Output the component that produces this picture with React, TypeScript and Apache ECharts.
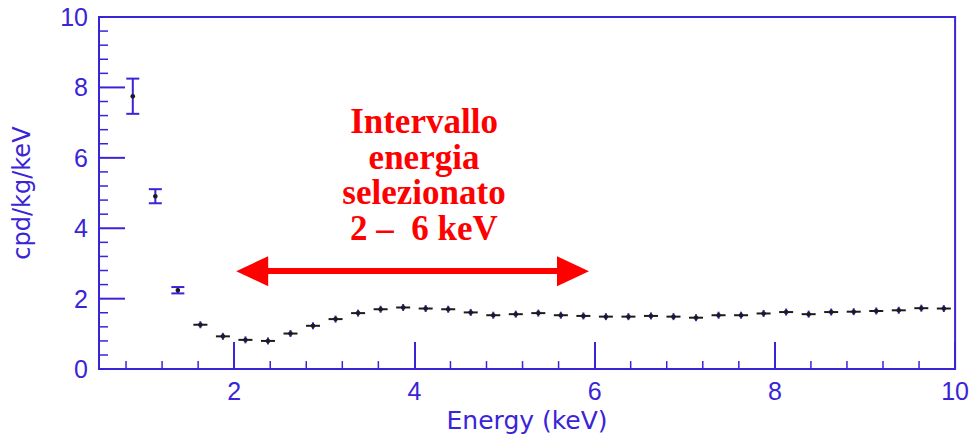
import React, { useEffect, useRef } from "react";
import * as echarts from "echarts";

const energy = [0.875, 1.125, 1.375, 1.625, 1.875, 2.125, 2.375, 2.625, 2.875, 3.125, 3.375, 3.625, 3.875, 4.125, 4.375, 4.625, 4.875, 5.125, 5.375, 5.625, 5.875, 6.125, 6.375, 6.625, 6.875, 7.125, 7.375, 7.625, 7.875, 8.125, 8.375, 8.625, 8.875, 9.125, 9.375, 9.625, 9.875];
const rate = [7.75, 4.91, 2.24, 1.26, 0.93, 0.83, 0.8, 1.01, 1.23, 1.42, 1.59, 1.7, 1.75, 1.72, 1.7, 1.61, 1.53, 1.56, 1.59, 1.53, 1.51, 1.49, 1.49, 1.51, 1.49, 1.46, 1.53, 1.53, 1.58, 1.62, 1.56, 1.62, 1.63, 1.65, 1.67, 1.73, 1.72];
const rateErr = [0.5, 0.2, 0.09, 0.07, 0.07, 0.07, 0.07, 0.07, 0.07, 0.07, 0.07, 0.07, 0.07, 0.07, 0.07, 0.07, 0.07, 0.07, 0.07, 0.07, 0.07, 0.07, 0.07, 0.07, 0.07, 0.07, 0.07, 0.07, 0.07, 0.07, 0.07, 0.07, 0.07, 0.07, 0.07, 0.07, 0.07];
const xMajorTicks = [2, 4, 6, 8, 10];
const xMinorTicks = [0.8, 1.2, 1.6, 2.4, 2.8, 3.2, 3.6, 4.4, 4.8, 5.2, 5.6, 6.4, 6.8, 7.2, 7.6, 8.4, 8.8, 9.2, 9.6];
const yMajorTicks = [0, 2, 4, 6, 8, 10];
const yMinorTicks = [0.4, 0.8, 1.2, 1.6, 2.4, 2.8, 3.2, 3.6, 4.4, 4.8, 5.2, 5.6, 6.4, 6.8, 7.2, 7.6, 8.4, 8.8, 9.2, 9.6];
const xMin = 0.5;
const xMax = 10;
const yMin = 0;
const yMax = 10;
const arrowFrom = 2.2;
const arrowTo = 5.76;
const arrowLevel = 2.78;
const annotationLines = ["Intervallo", "energia", "selezionato", "2 –  6 keV"];
const xTitle = "Energy (keV)";
const yTitle = "cpd/kg/keV";

const BLUE = "#3a24d8";
const DARK = "#1c1c1c";
const RED = "#ff0000";

export default function App() {
  const ref = useRef<HTMLDivElement>(null);
  useEffect(() => {
    document.body.style.margin = "0";
    if (!ref.current) return;
    const chart = echarts.init(ref.current, null, { renderer: "svg" });
    const data = energy.map((e, i) => [e, rate[i], rateErr[i]]);
    chart.setOption({
      animation: false,
      backgroundColor: "#ffffff",
      grid: {
        left: 99,
        right: 15,
        top: 17,
        bottom: 68,
        show: true,
        borderColor: BLUE,
        borderWidth: 2,
        backgroundColor: "transparent",
      },
      xAxis: {
        type: "value",
        min: xMin,
        max: xMax,
        position: "bottom",
        name: xTitle,
        nameLocation: "middle",
        nameGap: 38,
        nameTextStyle: { color: BLUE, fontSize: 25, fontFamily: "DejaVu Sans" },
        axisLine: { show: true, onZero: false, lineStyle: { color: BLUE, width: 2 } },
        axisTick: { show: true, inside: true, length: 27, customValues: xMajorTicks, lineStyle: { color: BLUE, width: 2 } },
        axisLabel: {
          color: BLUE,
          fontSize: 25,
          fontFamily: "Liberation Sans",
          margin: 9,
          customValues: xMajorTicks,
        },
        splitLine: { show: false },
      },
      yAxis: {
        type: "value",
        min: yMin,
        max: yMax,
        position: "left",
        name: yTitle,
        nameLocation: "middle",
        nameGap: 65,
        nameTextStyle: { color: BLUE, fontSize: 24, fontFamily: "DejaVu Sans" },
        axisLine: { show: true, onZero: false, lineStyle: { color: BLUE, width: 2 } },
        axisTick: { show: false },
        axisLabel: { color: BLUE, fontSize: 25, fontFamily: "Liberation Sans", margin: 11, customValues: yMajorTicks },
        splitLine: { show: false },
      },
      series: [
        {
          type: "custom",
          name: "data",
          encode: { x: 0, y: 1 },
          data,
          renderItem: (params: any, api: any) => {
            const x = api.value(0);
            const y = api.value(1);
            const e = api.value(2);
            const c = api.coord([x, y]);
            const top = api.coord([x, y + e]);
            const bot = api.coord([x, y - e]);
            const errPx = (bot[1] - top[1]) / 2;
            const children: any[] = [];
            if (errPx > 3) {
              children.push({
                type: "line",
                shape: { x1: c[0], y1: top[1], x2: c[0], y2: bot[1] },
                style: { stroke: BLUE, lineWidth: 2 },
              });
              children.push({
                type: "line",
                shape: { x1: c[0] - 6.5, y1: top[1], x2: c[0] + 6.5, y2: top[1] },
                style: { stroke: BLUE, lineWidth: 2 },
              });
              children.push({
                type: "line",
                shape: { x1: c[0] - 6.5, y1: bot[1], x2: c[0] + 6.5, y2: bot[1] },
                style: { stroke: BLUE, lineWidth: 2 },
              });
            } else {
              children.push({
                type: "line",
                shape: { x1: c[0] - 7, y1: c[1], x2: c[0] + 7, y2: c[1] },
                style: { stroke: DARK, lineWidth: 2 },
              });
              children.push({
                type: "line",
                shape: { x1: c[0], y1: c[1] - 3.5, x2: c[0], y2: c[1] + 3.5 },
                style: { stroke: BLUE, lineWidth: 2 },
              });
            }
            children.push({
              type: "circle",
              shape: { cx: c[0], cy: c[1], r: 2.3 },
              style: { fill: DARK },
            });
            return { type: "group", children };
          },
          z: 5,
        },
        {
          type: "line",
          name: "range",
          data: [],
          silent: true,
          markLine: {
            silent: true,
            symbol: ["triangle", "triangle"],
            symbolSize: [30, 32],
            label: { show: false },
            lineStyle: { color: RED, width: 6, type: "solid" },
            data: [
              [
                { coord: [arrowFrom, arrowLevel] },
                { coord: [arrowTo, arrowLevel] },
              ],
            ],
          },
        },
      ],
    });

    // Tick marks placed through the chart's own axis scales
    const toPx = (x: number, y: number) =>
      chart.convertToPixel({ xAxisIndex: 0, yAxisIndex: 0 }, [x, y]) as number[];
    const tickLine = (x1: number, y1: number, x2: number, y2: number, w: number) => ({
      type: "line",
      silent: true,
      z: 20,
      shape: { x1, y1, x2, y2 },
      style: { stroke: BLUE, lineWidth: w },
    });
    const tickGraphics: any[] = [];
    xMinorTicks.forEach((v) => {
      const p = toPx(v, yMin);
      tickGraphics.push(tickLine(p[0], p[1], p[0], p[1] - 8, 1.5));
    });
    yMinorTicks.forEach((v) => {
      const p = toPx(xMin, v);
      tickGraphics.push(tickLine(p[0], p[1], p[0] + 9, p[1], 1.5));
    });
    yMajorTicks
      .filter((v) => v > yMin && v < yMax)
      .forEach((v) => {
        const p = toPx(xMin, v);
        tickGraphics.push(tickLine(p[0], p[1], p[0] + 26, p[1], 2));
      });

    chart.setOption({
      graphic: [
        {
          type: "text",
          x: 424,
          y: 104,
          z: 10,
          style: {
            text: annotationLines.join("\n"),
            font: "bold 35px 'Liberation Serif'",
            fill: RED,
            align: "center",
            verticalAlign: "top",
            lineHeight: 35.5,
          },
        },
        ...tickGraphics,
      ],
    });
    return () => chart.dispose();
  }, []);
  return <div ref={ref} style={{ width: 972, height: 438 }} />;
}
